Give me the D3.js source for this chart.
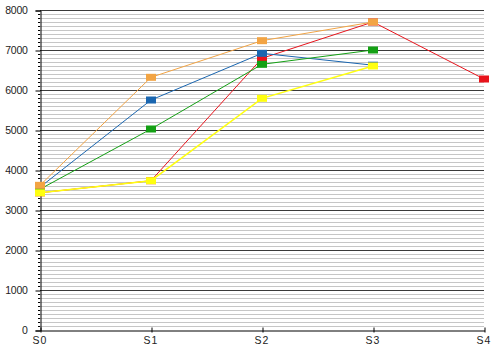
<!DOCTYPE html>
<html><head><meta charset="utf-8">
<script src="https://cdn.jsdelivr.net/npm/d3@7"></script>
<style>body{margin:0;background:#fff}svg{display:block}</style>
</head><body>
<svg id="c" width="500" height="350"></svg>
<script>
const categories = ["S0","S1","S2","S3","S4"];
const yTicks = [0,1000,2000,3000,4000,5000,6000,7000,8000];
const seriesRed    = [3430, 3733, 6792, 7700, 6275];
const seriesBlue   = [3570, 5750, 6917, 6620, null];
const seriesGreen  = [3520, 5025, 6642, 7000, null];
const seriesOrange = [3617, 6317, 7233, 7700, null];
const seriesYellow = [3430, 3733, 5792, 6600, null];

const series = [
  {values: seriesRed, color: "#e8141c", w: 1},
  {values: seriesBlue, color: "#1a66b0", w: 1},
  {values: seriesGreen, color: "#14a014", w: 1},
  {values: seriesOrange, color: "#f2a444", w: 1},
  {values: seriesYellow, color: "#ffff10", w: 1.5}
];

const svg = d3.select("#c");
const L = 40, R = 484, T = 10, B = 330;
const x = d3.scalePoint().domain(categories).range([L, R]);
const y = d3.scaleLinear().domain([0, 8000]).range([B, T]);

// minor gridlines
const minor = d3.range(100, 8000, 100).filter(v => v % 1000 !== 0);
svg.append("g").selectAll("line").data(minor).join("line")
  .attr("x1", L).attr("x2", R)
  .attr("y1", d => Math.round(y(d)) + 0.5).attr("y2", d => Math.round(y(d)) + 0.5)
  .attr("stroke", "#c6c6c6").attr("stroke-width", 1);
// major gridlines
svg.append("g").selectAll("line").data(yTicks.filter(v => v > 0)).join("line")
  .attr("x1", L).attr("x2", R)
  .attr("y1", d => Math.round(y(d)) + 0.5).attr("y2", d => Math.round(y(d)) + 0.5)
  .attr("stroke", "#3a3a3a").attr("stroke-width", 1);

// left axis
const yAxis = d3.axisLeft(y).tickValues(yTicks).tickSize(5).tickPadding(8).tickFormat(d3.format("d"));
const gy = svg.append("g").attr("transform", `translate(${L + 0.5},0.5)`).call(yAxis);
gy.select(".domain").attr("stroke", "#000");
gy.selectAll(".tick line").attr("stroke", "#000");
gy.selectAll("text").attr("font-family", "Liberation Sans, Arial, sans-serif").attr("font-size", 10.5).attr("fill", "#222").attr("letter-spacing", "-0.3px");
// minor ticks
svg.append("g").selectAll("line").data(minor).join("line")
  .attr("x1", L - 2).attr("x2", L)
  .attr("y1", d => Math.round(y(d)) + 0.5).attr("y2", d => Math.round(y(d)) + 0.5)
  .attr("stroke", "#000");

// bottom axis
const xAxis = d3.axisBottom(x).tickSizeInner(0).tickSizeOuter(0).tickPadding(6);
const gx = svg.append("g").attr("transform", `translate(0.5,${B + 0.5})`).call(xAxis);
gx.select(".domain").attr("stroke", "#000");
gx.selectAll(".tick line").attr("y1", -3).attr("y2", 2).attr("stroke", "#000");
gx.selectAll("text").attr("font-family", "Liberation Sans, Arial, sans-serif").attr("font-size", 10.5).attr("fill", "#222").attr("letter-spacing", "1.2px").attr("dx", "-1");

// lines and markers
series.forEach(s => {
  const vals = s.values.map((v, i) => ({v, i}));
  svg.append("path").datum(s.values)
    .attr("d", d3.line().defined(d => d != null).x((d, i) => x(categories[i])).y(d => y(d)))
    .attr("fill", "none").attr("stroke", s.color).attr("stroke-width", s.w);
  svg.append("g").selectAll("rect").data(vals.filter(d => d.v != null)).join("rect")
    .attr("x", d => x(categories[d.i]) - 5).attr("y", d => y(d.v) - 3.5)
    .attr("width", 10).attr("height", 7).attr("fill", s.color);
});
</script>
</body></html>
